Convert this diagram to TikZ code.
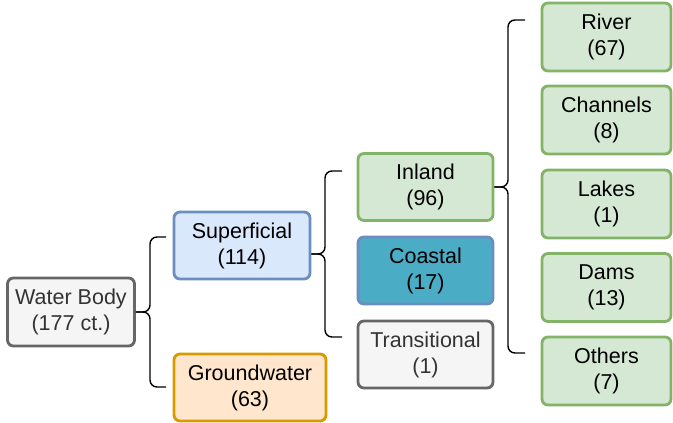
\documentclass[tikz,border=0pt]{standalone}
\usepackage{fontspec}
\setmainfont{Liberation Sans}
\usepackage{tikz}

\definecolor{grayfill}{HTML}{F5F5F5}
\definecolor{graydraw}{HTML}{666666}
\definecolor{graytext}{HTML}{333333}
\definecolor{bluefill}{HTML}{DAE8FC}
\definecolor{bluedraw}{HTML}{6C8EBF}
\definecolor{orangefill}{HTML}{FFE6CC}
\definecolor{orangedraw}{HTML}{D79B00}
\definecolor{greenfill}{HTML}{D5E8D4}
\definecolor{greendraw}{HTML}{82B366}
\definecolor{coastfill}{HTML}{4BACC6}

\tikzset{
  box/.style={rounded corners=6pt, line width=2.8pt, align=center, inner sep=0pt,
    minimum height=67pt, font=\fontsize{21.5}{26}\selectfont},
  graybox/.style={box, draw=graydraw, fill=grayfill, text=graytext},
  bluebox/.style={box, draw=bluedraw, fill=bluefill},
  orangebox/.style={box, draw=orangedraw, fill=orangefill},
  greenbox/.style={box, draw=greendraw, fill=greenfill},
  coastbox/.style={box, draw=bluedraw, fill=coastfill},
  brace/.style={line width=1.4pt, rounded corners=7pt}
}

\begin{document}
\begin{tikzpicture}[x=1pt,y=-1pt]
      \useasboundingbox (0,0) rectangle (673,423);

      \node[graybox, minimum width=127pt, minimum height=68pt] (wb) at (71,312) {Water Body\\(177 ct.)};
      \node[bluebox, minimum width=136pt] (sup) at (242,245.5) {Superficial\\(114)};
      \node[orangebox, minimum width=152pt] (gw) at (250,387.5) {Groundwater\\(63)};
      \node[greenbox, minimum width=135pt] (inl) at (425.5,187) {Inland\\(96)};
      \node[coastbox, minimum width=135pt] (coa) at (425.5,270.5) {Coastal\\(17)};
      \node[graybox, minimum width=135pt] (tra) at (425.5,354.5) {Transitional\\(1)};
      \node[greenbox, minimum width=129pt, minimum height=68pt] (riv) at (606.5,37) {River\\(67)};
      \node[greenbox, minimum width=129pt, minimum height=68pt] (cha) at (606.5,120) {Channels\\(8)};
      \node[greenbox, minimum width=129pt, minimum height=68pt] (lak) at (606.5,204) {Lakes\\(1)};
      \node[greenbox, minimum width=129pt, minimum height=68pt] (dam) at (606.5,287.5) {Dams\\(13)};
      \node[greenbox, minimum width=129pt, minimum height=68pt] (oth) at (606.5,371) {Others\\(7)};

      \coordinate (wbtop) at (166,237);
      \coordinate (wbbot) at (166,387);
      \coordinate (suptop) at (342,171);
      \coordinate (supbot) at (342,337);
      \coordinate (inltop) at (525,20);
      \coordinate (inlbot) at (525,353);

      \draw[brace] (wbtop) -- (150,237) -- (150,312) -- (wb.east);
      \draw[brace] (wbbot) -- (150,387) -- (150,312) -- (wb.east);
      \draw[brace] (suptop) -- (325,171) -- (325,254) -- (sup.east |- 0,254);
      \draw[brace] (supbot) -- (325,337) -- (325,254) -- (sup.east |- 0,254);
      \draw[brace] (inltop) -- (508,20) -- (508,187) -- (inl.east);
      \draw[brace] (inlbot) -- (508,353) -- (508,187) -- (inl.east);
    \end{tikzpicture}
\end{document}
